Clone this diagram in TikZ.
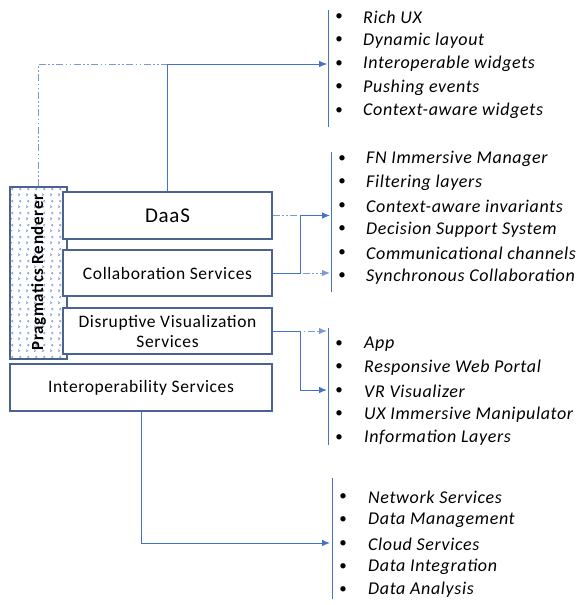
\documentclass[tikz,border=0pt]{standalone}
\usepackage{fontspec}
\setmainfont{Carlito}[LetterSpace=3.5]
\usetikzlibrary{arrows.meta,patterns.meta}
\definecolor{boxline}{HTML}{4C6390}
\definecolor{conn}{HTML}{4472C4}
\definecolor{connlight}{HTML}{7C9BD6}
\definecolor{patcol}{HTML}{7594D4}
\tikzdeclarepattern{
  name=chev,
  type=uncolored,
  bottom left={(0pt,0pt)},
  top right={(8pt,12pt)},
  tile size={(8pt,12pt)},
  code={
    \draw[line width=0.7pt] (2.3pt,1.3pt) -- (4.2pt,2.5pt) -- (2.3pt,3.7pt);
    \draw[line width=0.7pt] (5.7pt,7.3pt) -- (3.8pt,8.5pt) -- (5.7pt,9.7pt);
  }
}
\tikzset{
  svc/.style={draw=boxline, line width=1.2pt, fill=white, inner sep=0pt, align=center, font=\fontsize{17.5}{20}\selectfont},
  solidc/.style={draw=conn, line width=1pt, -{Latex[length=8pt,width=6.5pt]}},
  dashc/.style={draw=connlight, line width=1pt, dash pattern=on 7pt off 2.5pt on 1.5pt off 2.5pt on 1.5pt off 2.5pt, -{Latex[length=8pt,width=6.5pt]}},
  listline/.style={draw=conn, line width=1pt},
  item/.style={anchor=west, inner sep=0pt, font=\fontsize{18}{20}\selectfont\itshape},
  bul/.style={anchor=center, inner sep=0pt, font=\fontsize{15}{17}\selectfont},
}
\begin{document}
\begin{tikzpicture}[x=1pt,y=-1pt]
\useasboundingbox (0,0) rectangle (581,605);
% Pragmatics renderer
\node[draw=boxline, line width=1.2pt, pattern={chev}, pattern color=patcol, minimum width=57pt, minimum height=172pt, inner sep=0pt] (pr) at (38.5,273) {};
\node[rotate=90, font=\fontsize{17}{19}\selectfont\bfseries] (prt) at (38.5,272.5) {Pragmatics Renderer};
% service boxes
\node[svc, minimum width=209pt, minimum height=47pt, font=\fontsize{21}{23}\selectfont] (daas) at (167.5,215.5) {DaaS};
\node[svc, minimum width=209pt, minimum height=46pt] (collab) at (167.5,273) {Collaboration Services};
\node[svc, minimum width=209pt, minimum height=46pt] (disr) at (167.5,331) {Disruptive Visualization\\Services};
\node[svc, minimum width=262pt, minimum height=47pt] (interop) at (141,387.5) {Interoperability Services};
% arrow targets
\coordinate (a1) at (327,64);
\coordinate (a2) at (330,215.5);
\coordinate (a3) at (330,273);
\coordinate (a4) at (327,331);
\coordinate (a5) at (327,390);
\coordinate (a6) at (330,543);
\coordinate (j1) at (300,215.5);
\coordinate (j2) at (300,273);
\coordinate (j3) at (300,331);
% connectors
\draw[dashc] (pr.north) |- (a1);
\draw[solidc] (daas.north) |- (a1);
\draw[dashc] (daas.east) -- (j1) |- (a3);
\draw[solidc] (collab.east) -- (j2) |- (a2);
\draw[dashc] (disr.east) -- (a4);
\draw[solidc] (disr.east) -- (j3) |- (a5);
\draw[solidc] (interop.south) |- (a6);
% list lines
\coordinate (l1t) at (328,10); \coordinate (l1b) at (328,127);
\coordinate (l2t) at (331,152); \coordinate (l2b) at (331,292);
\coordinate (l3t) at (328,328); \coordinate (l3b) at (328,445);
\coordinate (l4t) at (332,478); \coordinate (l4b) at (332,599);
\draw[listline] (l1t) -- (l1b);
\draw[listline] (l2t) -- (l2b);
\draw[listline] (l3t) -- (l3b);
\draw[listline] (l4t) -- (l4b);
% list 1
\foreach \t/\y/\n in {Rich UX/17/a, Dynamic layout/40.5/b, Interoperable widgets/64/c, Pushing events/87.5/d, Context-aware widgets/111/e}{
  \node[bul] (b1\n) at (339,\y) {\textbullet};
  \node[item] (t1\n) at (363,\y) {\t};
}
% list 2
\foreach \t/\y/\n in {FN Immersive Manager/159/a, Filtering layers/182.5/b, Context-aware invariants/206/c, Decision Support System/229.5/d, Communicational channels/253/e, Synchronous Collaboration/276.5/f}{
  \node[bul] (b2\n) at (342,\y) {\textbullet};
  \node[item] (t2\n) at (366,\y) {\t};
}
% list 3
\foreach \t/\y/\n in {App/344/a, Responsive Web Portal/367.5/b, VR Visualizer/391/c, UX Immersive Manipulator/414.5/d, Information Layers/438/e}{
  \node[bul] (b3\n) at (339,\y) {\textbullet};
  \node[item] (t3\n) at (364,\y) {\t};
}
% list 4
\foreach \t/\y/\n in {Network Services/497/a, Data Management/520.5/b, Cloud Services/544/c, Data Integration/567/d, Data Analysis/590/e}{
  \node[bul] (b4\n) at (343,\y) {\textbullet};
  \node[item] (t4\n) at (368,\y) {\t};
}
\end{tikzpicture}
\end{document}
